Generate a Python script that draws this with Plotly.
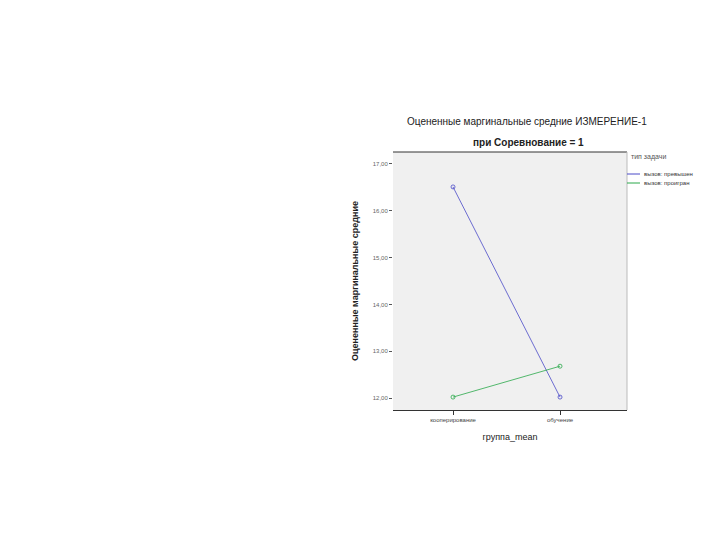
import plotly.graph_objects as go

categories = ["кооперирование", "обучение"]
series_names = ["вызов: превышен", "вызов: проигран"]
series_a = [16.51, 12.02]
series_b = [12.02, 12.68]
y_ticks = [12, 13, 14, 15, 16, 17]
y_tick_labels = ["12,00", "13,00", "14,00", "15,00", "16,00", "17,00"]
legend_title = "тип задачи"

colors = ["#4a4ac8", "#2aa84a"]
fig = go.Figure()
for name, vals, c in zip(series_names, [series_a, series_b], colors):
    fig.add_trace(go.Scatter(
        x=categories, y=vals, name=name, mode="lines+markers", showlegend=False,
        line=dict(color=c, width=0.8),
        marker=dict(symbol="circle-open", size=4, color=c, line=dict(width=0.8)),
    ))

OFF = 8  # page body margin
FW, FH = 720 - OFF, 540 - OFF
L, T = 393 - OFF, 152 - OFF
R, B = FW - (627 - OFF), FH - (410 - OFF)
W, H = FW - L - R, FH - T - B
fig.update_layout(
    width=FW, height=FH,
    margin=dict(l=L, r=R, t=T, b=B, autoexpand=False),
    paper_bgcolor="white", plot_bgcolor="#f0f0f0",
    font=dict(family="Liberation Sans, Arial", size=7, color="#555555"),
    showlegend=False,
    xaxis=dict(type="category", range=[-0.561, 1.626], showgrid=False,
               ticks="outside", ticklen=4, tickcolor="#333", showline=True,
               linecolor="#333", linewidth=1, mirror=False,
               tickfont=dict(size=6, color="#444"),
               title=dict(text="группа_mean", font=dict(size=9, color="#222"), standoff=11)),
    yaxis=dict(range=[11.744, 17.256], tickvals=y_ticks, ticktext=y_tick_labels,
               showgrid=False, zeroline=False, ticks="outside", ticklen=3,
               tickcolor="#555", showline=False,
               tickfont=dict(size=6, color="#666"),
               title=dict(text="<b>Оцененные маргинальные средние</b>",
                          font=dict(size=9, color="#222"), standoff=12)),
)
fig.add_shape(type="line", xref="paper", yref="paper", x0=0, x1=1, y0=1, y1=1,
              line=dict(color="#333", width=1))
fig.add_shape(type="line", xref="paper", yref="paper", x0=1, x1=1, y0=0, y1=1,
              line=dict(color="#bbb", width=1))

def px_x(p):
    return (p - OFF - L) / W

def px_y(p):
    return (FH - B - (p - OFF)) / H

fig.add_annotation(text=legend_title, xref="paper", yref="paper",
                   x=px_x(629), y=px_y(157), xanchor="left", yanchor="middle",
                   showarrow=False, font=dict(size=7, color="#555"))
for i, (name, c) in enumerate(zip(series_names, colors)):
    yy = px_y(174 + 9 * i)
    fig.add_shape(type="line", xref="paper", yref="paper",
                  x0=px_x(627), x1=px_x(640), y0=yy, y1=yy,
                  line=dict(color=c, width=1))
    fig.add_annotation(text=name, xref="paper", yref="paper",
                       x=px_x(642), y=yy, xanchor="left", yanchor="middle",
                       showarrow=False, font=dict(size=6, color="#333"))

fig.add_annotation(text="Оцененные маргинальные средние ИЗМЕРЕНИЕ-1",
                   xref="paper", yref="paper", x=px_x(527), y=px_y(121),
                   yanchor="middle", showarrow=False, font=dict(size=10, color="#222"))
fig.add_annotation(text="<b>при Соревнование = 1</b>",
                   xref="paper", yref="paper", x=px_x(528), y=px_y(143),
                   yanchor="middle", showarrow=False, font=dict(size=10, color="#222"))
fig.write_html("out.html")
